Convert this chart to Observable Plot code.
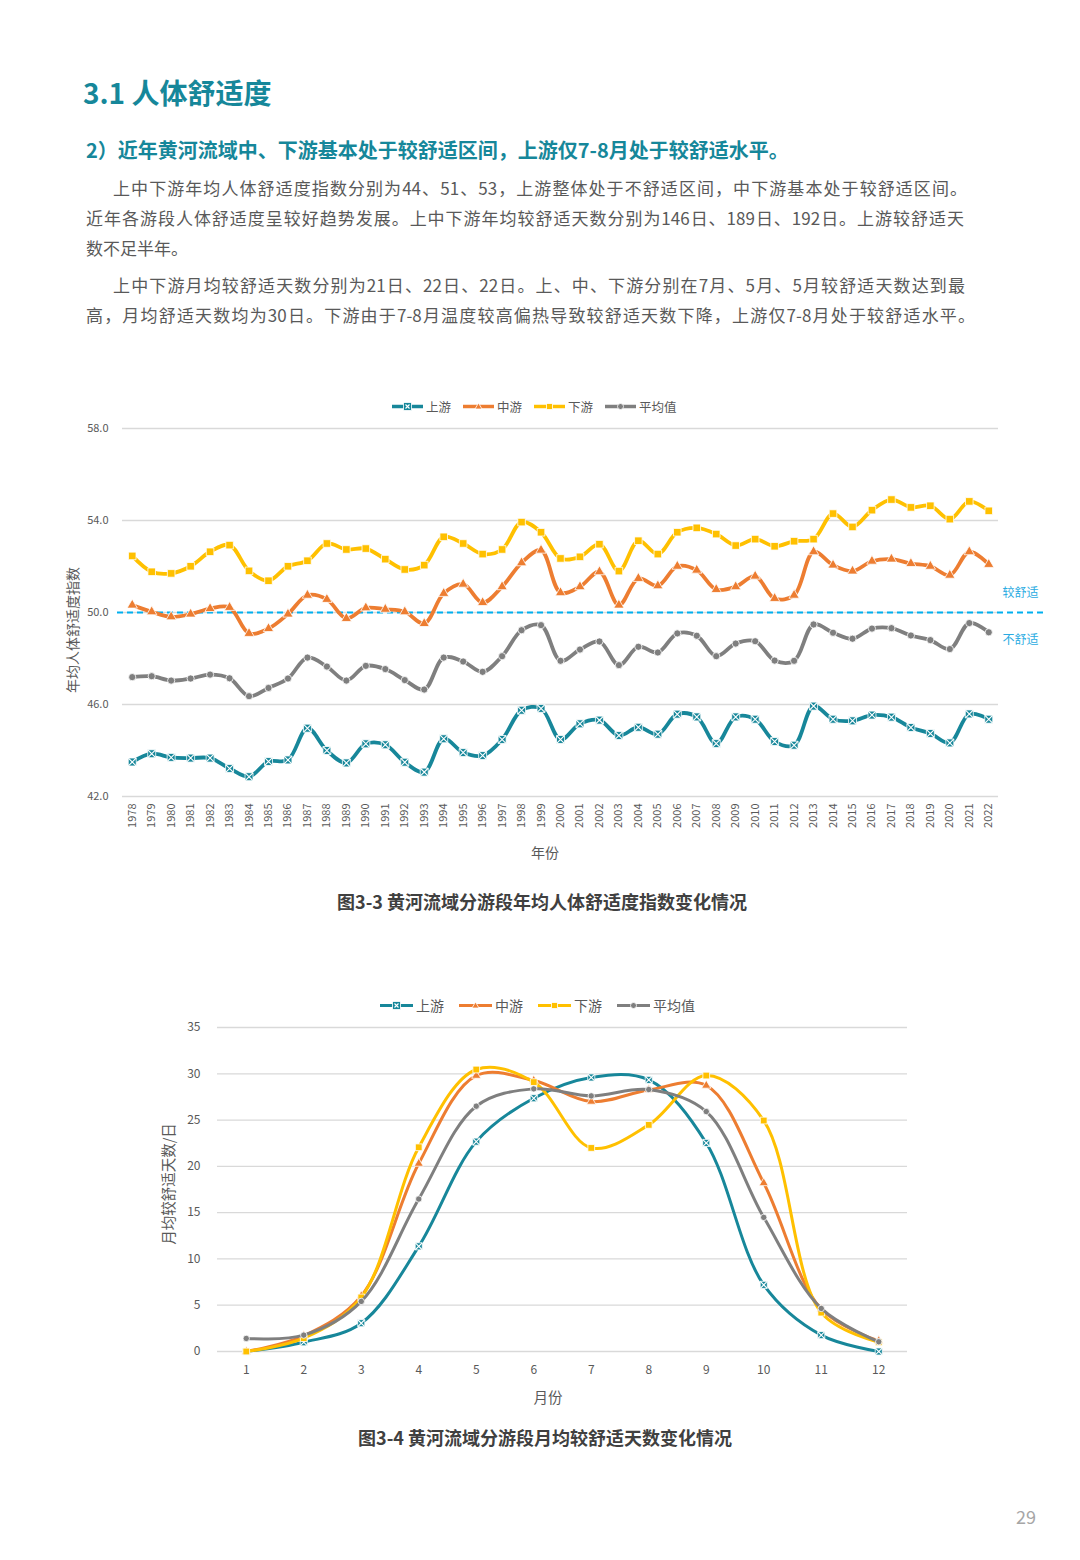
<!DOCTYPE html>
<html>
<head>
<meta charset="utf-8">
<script src="https://cdn.jsdelivr.net/npm/d3@7"></script>
<script src="https://cdn.jsdelivr.net/npm/@observablehq/plot@0.6"></script>
<style>
  html, body { margin: 0; padding: 0; background: #fff; }
  body { width: 1080px; height: 1560px; position: relative; overflow: hidden;
         font-family: "Noto Sans CJK SC", "Noto Sans", sans-serif; color: #595959; }
  .abs { position: absolute; white-space: nowrap; }
  .title { left: 83px; top: 74px; font-size: 28px; line-height: 36px; font-weight: 700; color: #16879a; }
  .sub { left: 86px; top: 136px; font-size: 20px; line-height: 28px; font-weight: 700; color: #16879a; }
  .body { font-size: 17px; line-height: 30px; color: #595959; }
  .just { text-align: justify; text-align-last: justify; white-space: normal; }
  .legend { display: flex; align-items: center; font-size: 12.5px; color: #595959; }
  .legend .item { display: flex; align-items: center; margin-right: 12px; }
  #legend2 .item { margin-right: 15px; }
  .legend svg { margin-right: 3px; }
  .cap { font-size: 18px; font-weight: 700; color: #404040; }
  .axt { font-size: 14px; color: #595959; }
  #c1, #c2 { position: absolute; left: 0; }
  #c1 { top: 380px; } #c2 { top: 1010px; }
</style>
</head>
<body>
<div class="abs title">3.1 人体舒适度</div>
<div class="abs sub">2）近年黄河流域中、下游基本处于较舒适区间，上游仅7-8月处于较舒适水平。</div>
<div class="abs body just" style="left:113px; top:173px; width:854px;">上中下游年均人体舒适度指数分别为44、51、53，上游整体处于不舒适区间，中下游基本处于较舒适区间。</div>
<div class="abs body just" style="left:86px; top:203px; width:878px;">近年各游段人体舒适度呈较好趋势发展。上中下游年均较舒适天数分别为146日、189日、192日。上游较舒适天</div>
<div class="abs body" style="left:86px; top:233px;">数不足半年。</div>
<div class="abs body just" style="left:113px; top:270px; width:852px;">上中下游月均较舒适天数分别为21日、22日、22日。上、中、下游分别在7月、5月、5月较舒适天数达到最</div>
<div class="abs body just" style="left:86px; top:300px; width:889px;">高，月均舒适天数均为30日。下游由于7-8月温度较高偏热导致较舒适天数下降，上游仅7-8月处于较舒适水平。</div>

<div id="legend1" class="abs legend" style="left:392px; top:397px;"></div>
<div id="c1"></div>
<div class="abs axt" style="left:72px; top:630px; transform: translate(-50%,-50%) rotate(-90deg);">年均人体舒适度指数</div>
<div class="abs axt" style="left:545px; top:852px; transform: translate(-50%,-50%);">年份</div>
<div class="abs cap" style="left:542px; top:901px; transform: translate(-50%,-50%);">图3-3 黄河流域分游段年均人体舒适度指数变化情况</div>

<div id="legend2" class="abs legend" style="left:380px; top:995px; font-size:14px;"></div>
<div id="c2"></div>
<div class="abs axt" style="left:167px; top:1184px; font-size:14.5px; transform: translate(-50%,-50%) rotate(-90deg);">月均较舒适天数/日</div>
<div class="abs axt" style="left:548px; top:1396px; font-size:14.5px; transform: translate(-50%,-50%);">月份</div>
<div class="abs cap" style="left:545px; top:1437px; transform: translate(-50%,-50%);">图3-4 黄河流域分游段月均较舒适天数变化情况</div>

<div class="abs" style="left:1026px; top:1516px; transform: translate(-50%,-50%); font-size:18px; color:#a6a6a6;">29</div>

<script>
// ---------- Data ----------
const seriesNames = ["上游", "中游", "下游", "平均值"];
const seriesColors = ["#17879a", "#ed7d31", "#ffc000", "#7f7f7f"];

const years = [1978, 1979, 1980, 1981, 1982, 1983, 1984, 1985, 1986, 1987, 1988, 1989, 1990, 1991, 1992,
  1993, 1994, 1995, 1996, 1997, 1998, 1999, 2000, 2001, 2002, 2003, 2004, 2005, 2006, 2007, 2008,
  2009, 2010, 2011, 2012, 2013, 2014, 2015, 2016, 2017, 2018, 2019, 2020, 2021, 2022];

const upperAnnual = [43.5, 43.86, 43.7, 43.67, 43.67, 43.22, 42.86, 43.52, 43.59, 44.97, 44.0, 43.46, 44.29, 44.25, 43.49,
  43.06, 44.51, 43.91, 43.78, 44.48, 45.75, 45.83, 44.48, 45.16, 45.32, 44.65, 45.01, 44.71, 45.58, 45.46, 44.3,
  45.46, 45.36, 44.39, 44.23, 45.93, 45.36, 45.29, 45.54, 45.45, 45.0, 44.74, 44.33, 45.59, 45.36];
const middleAnnual = [50.32, 50.03, 49.81, 49.93, 50.17, 50.22, 49.09, 49.3, 49.93, 50.75, 50.57, 49.74, 50.2, 50.14, 50.03,
  49.52, 50.83, 51.23, 50.43, 51.12, 52.16, 52.71, 50.86, 51.12, 51.77, 50.32, 51.48, 51.16, 52.01, 51.84, 51.0,
  51.12, 51.58, 50.61, 50.75, 52.64, 52.06, 51.8, 52.23, 52.32, 52.13, 52.01, 51.62, 52.64, 52.09];
const lowerAnnual = [52.46, 51.77, 51.7, 52.01, 52.64, 52.93, 51.81, 51.38, 52.01, 52.25, 53.0, 52.74, 52.78, 52.32, 51.87,
  52.06, 53.29, 53.0, 52.54, 52.74, 53.93, 53.49, 52.35, 52.42, 52.97, 51.8, 53.12, 52.54, 53.49, 53.68, 53.41,
  52.91, 53.19, 52.88, 53.1, 53.19, 54.3, 53.72, 54.45, 54.91, 54.57, 54.64, 54.06, 54.83, 54.42];
const averageAnnual = [47.19, 47.23, 47.04, 47.13, 47.3, 47.14, 46.36, 46.72, 47.13, 48.04, 47.65, 47.04, 47.68, 47.54, 47.06,
  46.65, 48.04, 47.87, 47.42, 48.1, 49.23, 49.45, 47.9, 48.39, 48.74, 47.71, 48.51, 48.26, 49.09, 48.99, 48.1,
  48.65, 48.75, 47.91, 47.9, 49.48, 49.12, 48.86, 49.3, 49.32, 49.0, 48.8, 48.41, 49.54, 49.14];
const yTicks1 = [42, 46, 50, 54, 58];
const comfortLine = 50;
const zoneLabels = ["较舒适", "不舒适"];

const months = [1, 2, 3, 4, 5, 6, 7, 8, 9, 10, 11, 12];
const upperMonthly = [0, 1.0, 3.06, 11.36, 22.67, 27.36, 29.6, 29.34, 22.53, 7.2, 1.77, 0];
const middleMonthly = [0, 1.7, 6.0, 20.3, 29.8, 29.27, 27.0, 28.26, 28.73, 18.2, 4.58, 1.15];
const lowerMonthly = [0, 1.44, 5.84, 22.06, 30.46, 29.1, 21.99, 24.48, 29.81, 24.95, 4.2, 1.0];
const averageMonthly = [1.41, 1.77, 5.41, 16.47, 26.5, 28.37, 27.61, 28.3, 25.92, 14.49, 4.65, 1.05];
const yTicks2 = [0, 5, 10, 15, 20, 25, 30, 35];

// ---------- Helpers ----------
const annualSeries = [upperAnnual, middleAnnual, lowerAnnual, averageAnnual];
const monthlySeries = [upperMonthly, middleMonthly, lowerMonthly, averageMonthly];

function seriesMarks(xs, ys, i, opts) {
  const data = xs.map((x, k) => ({x, y: ys[k]}));
  const color = seriesColors[i];
  const marks = [
    Plot.line(data, {x: "x", y: "y", stroke: color, strokeWidth: opts.lw, curve: "catmull-rom"})
  ];
  if (i === 0) {
    marks.push(Plot.dot(data, {x: "x", y: "y", symbol: "square", r: opts.r, fill: color, stroke: "#fff", strokeWidth: 0.8}));
    marks.push(Plot.dot(data, {x: "x", y: "y", symbol: "times", r: opts.r * 0.8, stroke: "#fff", strokeWidth: 1.1}));
  } else if (i === 1) {
    marks.push(Plot.dot(data, {x: "x", y: "y", symbol: "triangle", r: opts.r * 0.85, fill: color, stroke: "#fff", strokeWidth: 0.8}));
  } else if (i === 2) {
    marks.push(Plot.dot(data, {x: "x", y: "y", symbol: "square", r: opts.r * 0.95, fill: color, stroke: "#fff", strokeWidth: 0.8}));
  } else {
    marks.push(Plot.dot(data, {x: "x", y: "y", symbol: "circle", r: opts.r * 0.8, fill: color, stroke: "#fff", strokeWidth: 0.8}));
  }
  return marks;
}

function legend(el, lw, sw) {
  const mid = sw / 2;
  seriesNames.forEach((name, i) => {
    const item = document.createElement("div");
    item.className = "item";
    const c = seriesColors[i];
    let m = "";
    if (i === 0) m = `<rect x="${mid - 4}" y="2.5" width="8" height="8" fill="${c}" stroke="#fff" stroke-width="0.8"/><path d="M${mid - 2} 4.5 L${mid + 2} 8.5 M${mid + 2} 4.5 L${mid - 2} 8.5" stroke="#fff" stroke-width="1.1"/>`;
    else if (i === 1) m = `<path d="M${mid} 3 L${mid + 3.5} 9 L${mid - 3.5} 9 Z" fill="${c}" stroke="#fff" stroke-width="0.8"/>`;
    else if (i === 2) m = `<rect x="${mid - 3}" y="3.5" width="6" height="6" fill="${c}" stroke="#fff" stroke-width="0.8"/>`;
    else m = `<circle cx="${mid}" cy="6.5" r="3" fill="${c}" stroke="#fff" stroke-width="0.8"/>`;
    item.innerHTML = `<svg width="${sw}" height="13"><line x1="0" x2="${sw}" y1="6.5" y2="6.5" stroke="${c}" stroke-width="${lw}"/>${m}</svg><span>${name}</span>`;
    el.appendChild(item);
  });
}

const font = `"Noto Sans CJK SC", "Noto Sans", sans-serif`;

// ---------- Chart 1 ----------
const chart1 = Plot.plot({
  width: 1080, height: 470,
  marginLeft: 122, marginRight: 82, marginTop: 48, marginBottom: 54,
  style: {fontFamily: font, fontSize: "11px", color: "#595959", background: "transparent", overflow: "visible"},
  x: {type: "point", domain: years, padding: 0.5, round: false, label: null},
  y: {domain: [42, 58], label: null},
  marks: [
    Plot.gridY(yTicks1, {stroke: "#d9d9d9", strokeOpacity: 1, strokeWidth: 1.3}),
    Plot.axisY(yTicks1, {tickSize: 0, tickPadding: 14, tickFormat: d => d.toFixed(1), label: null, fontSize: 11}),
    Plot.axisX({tickSize: 0, tickRotate: -90, tickPadding: 7, tickFormat: d => String(d), label: null, fontSize: 11}),
    Plot.ruleY([comfortLine], {stroke: "#00b0f0", strokeWidth: 2, strokeDasharray: "6,4", insetLeft: -5, insetRight: -45}),
    Plot.text([zoneLabels[0]], {y: [comfortLine], text: d => d, frameAnchor: "right", textAnchor: "middle", dx: 22, dy: -19, fill: "#29abe2", fontSize: 12}),
    Plot.text([zoneLabels[1]], {y: [comfortLine], text: d => d, frameAnchor: "right", textAnchor: "middle", dx: 22, dy: 28, fill: "#29abe2", fontSize: 12}),
    ...annualSeries.flatMap((s, i) => seriesMarks(years, s, i, {lw: 3.8, r: 4.5}))
  ]
});
document.getElementById("c1").appendChild(chart1);
legend(document.getElementById("legend1"), 3.5, 31);

// ---------- Chart 2 ----------
const chart2 = Plot.plot({
  width: 1080, height: 380,
  marginLeft: 217, marginRight: 173, marginTop: 17, marginBottom: 39,
  style: {fontFamily: font, fontSize: "12px", color: "#595959", background: "transparent", overflow: "visible"},
  x: {type: "point", domain: months, padding: 0.5, round: false, label: null},
  y: {domain: [0, 35], label: null},
  marks: [
    Plot.gridY(yTicks2, {stroke: "#d9d9d9", strokeOpacity: 1, strokeWidth: 1.3}),
    Plot.axisY(yTicks2, {tickSize: 0, tickPadding: 17, label: null, fontSize: 12}),
    Plot.axisX({tickSize: 0, tickPadding: 14, label: null, fontSize: 12}),
    ...monthlySeries.flatMap((s, i) => seriesMarks(months, s, i, {lw: 3, r: 4}))
  ]
});
document.getElementById("c2").appendChild(chart2);
legend(document.getElementById("legend2"), 3, 33);
</script>
</body>
</html>
